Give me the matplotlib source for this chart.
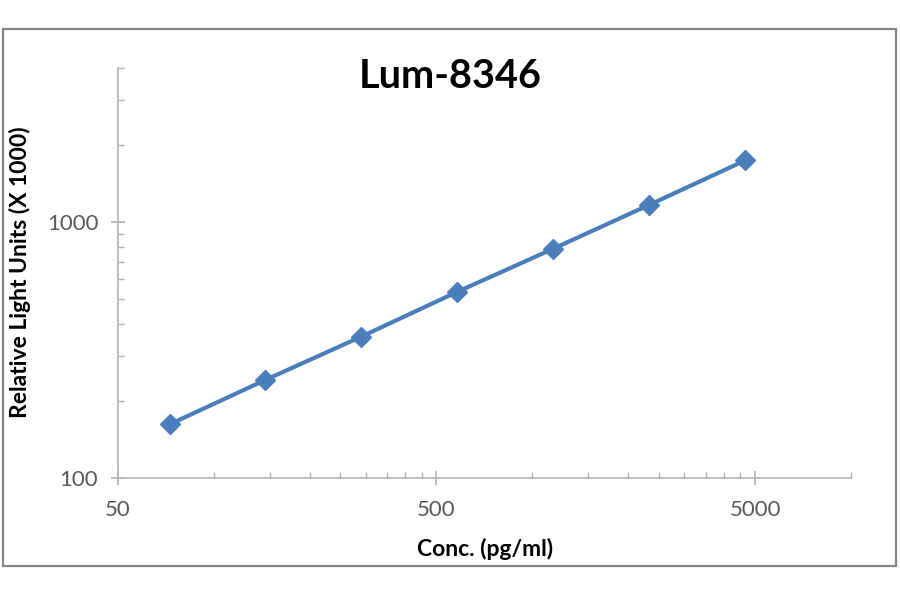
import matplotlib
matplotlib.use("Agg")
import matplotlib.pyplot as plt
from matplotlib.ticker import FixedLocator, FixedFormatter, NullFormatter
from matplotlib.patches import Rectangle
import numpy as np

# ---- data ----
conc = [73, 145, 290, 580, 1160, 2330, 4650]
rlu = [162, 241, 356, 533, 786, 1169, 1743]

title = "Lum-8346"
xlabel = "Conc. (pg/ml)"
ylabel = "Relative Light Units (X 1000)"

x_major = [50, 500, 5000]
x_major_labels = ["50", "500", "5000"]
y_major = [100, 1000]
y_major_labels = ["100", "1000"]
x_minor = [100, 150, 200, 250, 300, 350, 400, 450,
           1000, 1500, 2000, 2500, 3000, 3500, 4000, 4500, 10000]
y_minor = [200, 300, 400, 500, 600, 700, 800, 900, 2000, 3000, 4000]
xlim = (50, 10000)
ylim = (100, 4000)

plt.rcParams['font.family'] = ['Lato', 'DejaVu Sans']

fig = plt.figure(figsize=(9, 5.94), dpi=100)
ax = fig.add_axes([117.7 / 900, 1 - 477.7 / 594, (851 - 117.7) / 900, (477.7 - 68.3) / 594])

line_color = '#4A7EBB'
ax.plot(conc, rlu, color=line_color, lw=3.0, marker='D', ms=10.5,
        markerfacecolor=line_color, markeredgecolor=line_color, zorder=3, clip_on=False)

ax.set_xscale('log')
ax.set_yscale('log')
ax.set_xlim(*xlim)
ax.set_ylim(*ylim)

ax.xaxis.set_major_locator(FixedLocator(x_major))
ax.xaxis.set_major_formatter(FixedFormatter(x_major_labels))
ax.xaxis.set_minor_locator(FixedLocator(x_minor))
ax.xaxis.set_minor_formatter(NullFormatter())
ax.yaxis.set_major_locator(FixedLocator(y_major))
ax.yaxis.set_major_formatter(FixedFormatter(y_major_labels))
ax.yaxis.set_minor_locator(FixedLocator(y_minor))
ax.yaxis.set_minor_formatter(NullFormatter())

axis_color = '#B3B3B3'
for s in ['top', 'right']:
    ax.spines[s].set_visible(False)
for s in ['left', 'bottom']:
    ax.spines[s].set_color(axis_color)
    ax.spines[s].set_linewidth(1.2)

ax.tick_params(which='major', direction='inout', length=10, width=1.2, color=axis_color,
               labelsize=16, labelcolor='#595959')
ax.tick_params(which='minor', direction='in', length=4.5, width=1.0, color=axis_color)
ax.tick_params(axis='x', which='major', pad=11)
ax.tick_params(axis='y', which='major', pad=9)

fig.text(450 / 900, 1 - 76 / 594, title, ha='center', va='center',
         fontsize=28.5, fontweight='bold', color='#000000')
fig.text(485 / 900, 1 - 549 / 594, xlabel, ha='center', va='center',
         fontsize=16.5, fontweight='bold', color='#000000')
fig.text(20 / 900, 1 - 272 / 594, ylabel, ha='center', va='center', rotation=90,
         fontsize=16.5, fontweight='bold', color='#000000')

fig.patches.append(Rectangle((2.5 / 900, 1 - 565.5 / 594), (895.5 - 2.5) / 900,
                             (565.5 - 28.5) / 594, transform=fig.transFigure,
                             fill=False, edgecolor='#858585', linewidth=1.6))

fig.savefig('out.png', dpi=100, facecolor='white')
